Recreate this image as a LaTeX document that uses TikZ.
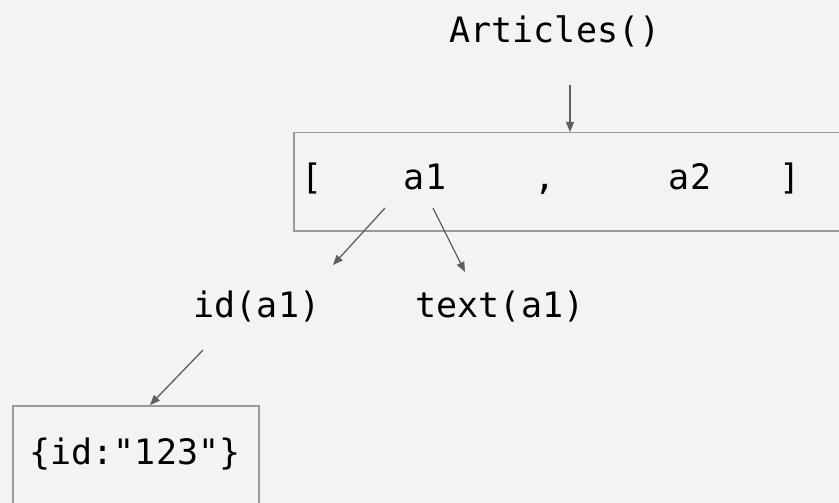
\documentclass[tikz,border=0pt]{standalone}
\usepackage{fontspec}
\setmonofont{DejaVu Sans Mono}
\usetikzlibrary{arrows.meta,calc}
\definecolor{bg}{HTML}{F3F3F3}
\definecolor{boxline}{HTML}{9A9A9A}
\definecolor{arrowline}{HTML}{5F5F5F}
\tikzset{
  code/.style={font=\ttfamily\fontsize{35}{40}\selectfont, inner sep=0pt, text=black, anchor=base},
  frame/.style={draw=boxline, line width=1.5pt, fill=none, inner sep=0pt},
  arr/.style={draw=arrowline, line width=1.3pt, -{Triangle[length=10pt,width=8pt]}}
}
\begin{document}
\begin{tikzpicture}[x=1pt,y=-1pt]
  \useasboundingbox (0,0) rectangle (839,503);
  \fill[bg] (0,0) rectangle (839,503);
  \clip (0,0) rectangle (839,503);

  % call producing the list
  \node[code] (articles) at (555,43) {Articles()};

  % list box with its elements
  \node[frame, anchor=north west, minimum width=560pt, minimum height=98pt] (list) at (293,132) {};
  \node[code] (lb) at (312,189) {[};
  \node[code] (a1) at (425,189) {a1};
  \node[code] (comma) at (545,189) {,};
  \node[code] (a2) at (690,189) {a2};
  \node[code] (rb) at (790,189) {]};

  % accessors of the first element
  \node[code] (id) at (257,317) {id(a1)};
  \node[code] (text) at (500,317) {text(a1)};

  % resulting record
  \node[frame, anchor=north west, minimum width=246pt, minimum height=110pt] (rec) at (12,405) {};
  \node[code] (recval) at (135,464) {\{id:"123"\}};

  % connectors
  \draw[arr] ($(articles.base)+(15,42)$) -- ($(list.north west)+(277,0)$);
  \draw[arr] ($(a1.base)+(-40,19)$) -- ($(id.base)+(76,-52)$);
  \draw[arr] ($(a1.base)+(8,19)$) -- ($(text.base)+(-35,-45)$);
  \draw[arr] ($(id.base)+(-54,33)$) -- ($(rec.north west)+(138,0)$);
\end{tikzpicture}
\end{document}
